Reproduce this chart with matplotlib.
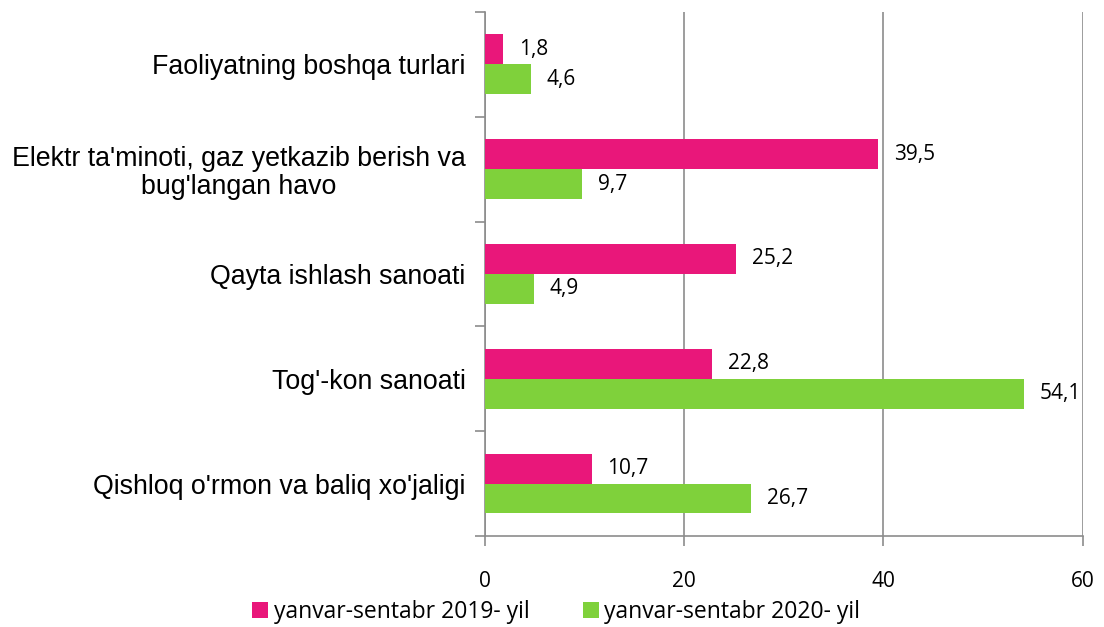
import numpy as np
import matplotlib.pyplot as plt

categories = ["Qishloq o'rmon va baliq xo'jaligi", "Tog'-kon sanoati", "Qayta ishlash sanoati",
              "Elektr ta'minoti, gaz yetkazib berish va\nbug'langan havo", "Faoliyatning boshqa turlari"]
y2019 = [10.7, 22.8, 25.2, 39.5, 1.8]
y2020 = [26.7, 54.1, 4.9, 9.7, 4.6]
labels2019 = ["10,7", "22,8", "25,2", "39,5", "1,8"]
labels2020 = ["26,7", "54,1", "4,9", "9,7", "4,6"]

pink = "#E9177A"
green = "#7FD13B"
gray = "#8C8C8C"

fig = plt.figure(figsize=(11.04, 6.27), dpi=100)
ax = fig.add_axes([0.4393, 0.1451, 0.5413, 0.836])

y = np.arange(len(categories))
h = 0.285
ax.barh(y + h / 2, y2019, height=h, color=pink, label="yanvar-sentabr 2019- yil", zorder=3)
ax.barh(y - h / 2, y2020, height=h, color=green, label="yanvar-sentabr 2020- yil", zorder=3)

for i in range(len(categories)):
    ax.text(y2019[i] + 1.6, y[i] + h / 2, labels2019[i], va="center", ha="left",
            fontsize=15, family="Open Sans")
    ax.text(y2020[i] + 1.6, y[i] - h / 2, labels2020[i], va="center", ha="left",
            fontsize=15, family="Open Sans")

ax.set_xlim(0, 60)
ax.set_ylim(-0.5, len(categories) - 0.5)
ax.set_xticks([0, 20, 40, 60])
ax.set_xticklabels(["0", "20", "40", "60"], fontsize=15, family="Open Sans")
ax.xaxis.grid(True, color=gray, linewidth=1.2, zorder=0)

ax.set_yticks(np.arange(-0.5, len(categories), 1.0))
ax.set_yticklabels([])
ax.set_yticks(y, minor=True)
ax.set_yticklabels(categories, minor=True, fontsize=19.3, family="Liberation Sans", ha="right")
ax.tick_params(axis="y", which="minor", length=0, pad=14)
ax.tick_params(axis="y", which="major", length=7, color=gray, width=1.2)
ax.tick_params(axis="x", length=7, color=gray, width=1.2, pad=18)
for lbl in ax.get_yticklabels(minor=True):
    lbl.set_multialignment("center")
    lbl.set_linespacing(1.1)

for s in ["top", "right"]:
    ax.spines[s].set_visible(False)
for s in ["left", "bottom"]:
    ax.spines[s].set_color(gray)
    ax.spines[s].set_linewidth(1.2)

leg = fig.legend(loc="lower center", bbox_to_anchor=(0.504, -0.028), ncol=2, frameon=False,
                 prop={"family": "Open Sans", "size": 16.5}, handlelength=0.7, handleheight=0.7,
                 handletextpad=0.25, columnspacing=2.3)

fig.savefig("out.png", dpi=100)
